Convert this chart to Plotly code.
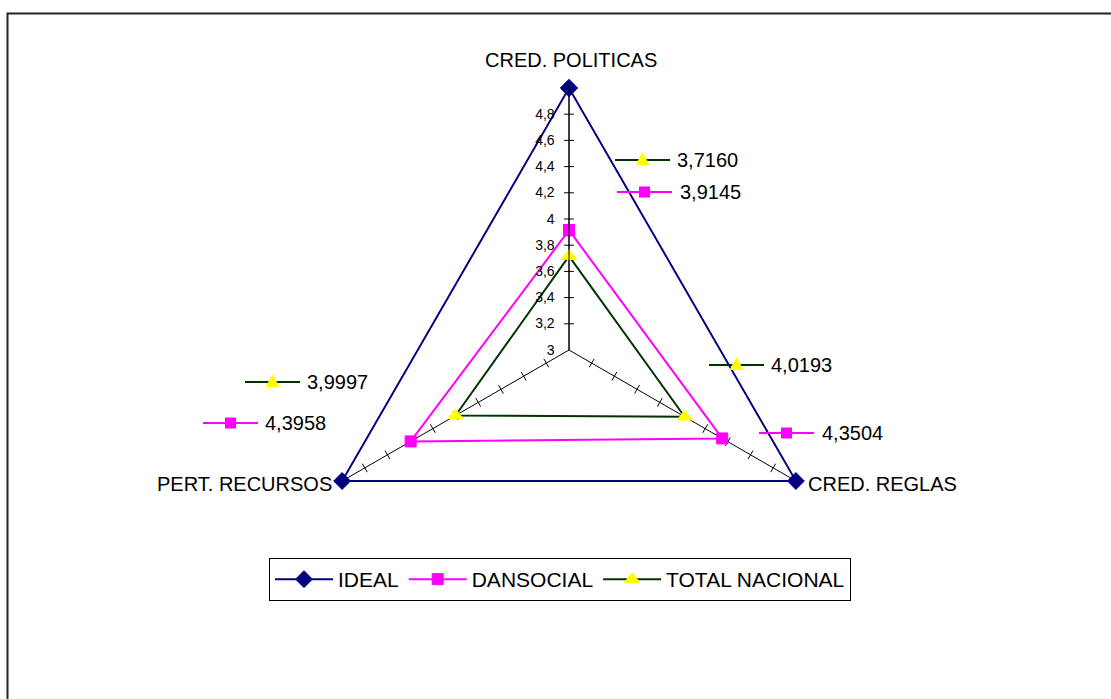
import plotly.graph_objects as go

categories = ["CRED. POLITICAS", "CRED. REGLAS", "PERT. RECURSOS"]
ideal = [5, 5, 5]
dansocial = [3.9145, 4.3504, 4.3958]
total_nacional = [3.7160, 4.0193, 3.9997]
radial_ticks = [3, 3.2, 3.4, 3.6, 3.8, 4, 4.2, 4.4, 4.6, 4.8]
radial_ticktext = ["3", "3,2", "3,4", "3,6", "3,8", "4", "4,2", "4,4", "4,6", "4,8"]

W, H = 1111, 699
FONT = "Liberation Sans, Arial, sans-serif"

NAVY = "#000080"
MAGENTA = "#FF00FF"
GREEN = "#003300"
YELLOW = "#FFFF00"


def px(x):
    return x / W


def py(y):
    return 1 - y / H


def closed(v):
    return list(v) + [v[0]]


fig = go.Figure()

# spoke tick marks on the three axes
spoke_angles = {categories[0]: 90, categories[1]: 30, categories[2]: -30}
tick_r, tick_t, tick_a = [], [], []
for c in categories:
    for t in radial_ticks[1:]:
        tick_r.append(t)
        tick_t.append(c)
        tick_a.append(spoke_angles[c])
fig.add_trace(go.Scatterpolar(
    r=tick_r, theta=tick_t, mode="markers",
    marker=dict(symbol="line-ns", size=7, angle=tick_a,
                line=dict(color="black", width=1)),
    showlegend=False, hoverinfo="skip", cliponaxis=False))

series = [
    ("IDEAL", ideal, NAVY, "diamond", NAVY, 13),
    ("DANSOCIAL", dansocial, MAGENTA, "square", MAGENTA, 11),
    ("TOTAL NACIONAL", total_nacional, GREEN, "triangle-up", YELLOW, 13),
]
for name, vals, lc, sym, mc, ms in series:
    fig.add_trace(go.Scatterpolar(
        r=closed(vals), theta=closed(categories), name=name,
        mode="lines+markers", cliponaxis=False,
        line=dict(color=lc, width=2),
        marker=dict(symbol=sym, color=mc, size=ms, line=dict(color=mc, width=1)),
    ))

r_min, r_max = 3, 5.02
cx, cy = 569, 350
R = 262 * (r_max - r_min) / 2
fig.update_layout(
    width=W, height=H, autosize=False,
    margin=dict(l=0, r=0, t=0, b=0),
    paper_bgcolor="white", plot_bgcolor="white",
    font=dict(family=FONT, color="black"),
    polar=dict(
        domain=dict(x=[px(cx - R), px(cx + R)], y=[py(cy + R), py(cy - R)]),
        bgcolor="white",
        gridshape="linear",
        radialaxis=dict(
            range=[r_min, r_max], angle=90, side="counterclockwise",
            tickvals=radial_ticks, ticktext=radial_ticktext,
            showgrid=False, showline=True, linecolor="black", linewidth=1,
            ticks="outside", ticklen=9, tickcolor="rgba(0,0,0,0)",
            tickfont=dict(size=14, family=FONT, color="black"),
            tickangle=90,
        ),
        angularaxis=dict(
            rotation=90, direction="clockwise",
            showgrid=True, gridcolor="black", gridwidth=1,
            showline=False, showticklabels=False, ticks="",
        ),
    ),
    legend=dict(
        orientation="h", x=px(269), y=py(558), xanchor="left", yanchor="top",
        bordercolor="black", borderwidth=1, bgcolor="white",
        font=dict(size=21, family=FONT, color="black"),
        itemwidth=58,
    ),
    showlegend=True,
)

annotations = []
shapes = []

# category labels
cat_pos = [(571, 60, "center"), (806, 484, "left"), (334, 484, "right")]
for c, (x, y, anc) in zip(categories, cat_pos):
    annotations.append(dict(x=px(x), y=py(y), xref="paper", yref="paper",
                            text=c, showarrow=False, xanchor=anc, yanchor="middle",
                            font=dict(size=20, family=FONT, color="black")))

# data labels with legend keys: (series index, category index, x0, x1, y, text x)
label_layout = [
    (2, 0, 615, 670, 160, 675),
    (1, 0, 617, 672, 192, 678),
    (2, 1, 709, 764, 365, 769),
    (1, 1, 759, 814, 433, 820),
    (2, 2, 245, 300, 382, 305),
    (1, 2, 203, 258, 423, 263),
]
for si, ci, x0, x1, y, tx in label_layout:
    name, vals, lc, sym, mc, ms = series[si]
    shapes.append(dict(type="line", xref="paper", yref="paper",
                       x0=px(x0), x1=px(x1), y0=py(y), y1=py(y),
                       line=dict(color=lc, width=2)))
    mx = (x0 + x1) / 2
    if sym == "square":
        s = 5.5
        shapes.append(dict(type="rect", xref="paper", yref="paper",
                           x0=px(mx - s), x1=px(mx + s), y0=py(y + s), y1=py(y - s),
                           fillcolor=mc, line=dict(color=mc, width=0)))
    else:
        path = "M {:.5f} {:.5f} L {:.5f} {:.5f} L {:.5f} {:.5f} Z".format(
            px(mx), py(y - 8), px(mx - 7), py(y + 5), px(mx + 7), py(y + 5))
        shapes.append(dict(type="path", xref="paper", yref="paper", path=path,
                           fillcolor=mc, line=dict(color=mc, width=0)))
    annotations.append(dict(x=px(tx), y=py(y), xref="paper", yref="paper",
                            text=f"{vals[ci]:.4f}".replace(".", ","),
                            showarrow=False, xanchor="left", yanchor="middle",
                            font=dict(size=20, family=FONT, color="black")))

# chart border
shapes.append(dict(type="rect", xref="paper", yref="paper",
                   x0=px(7.5), x1=1.05, y0=-0.05, y1=py(13.5),
                   line=dict(color="#222222", width=2), layer="below"))

fig.update_layout(annotations=annotations, shapes=shapes)
fig.write_html(
    "out.html",
    config={"displayModeBar": False},
    post_script="document.body.style.margin='0';document.body.style.overflow='hidden';",
)
